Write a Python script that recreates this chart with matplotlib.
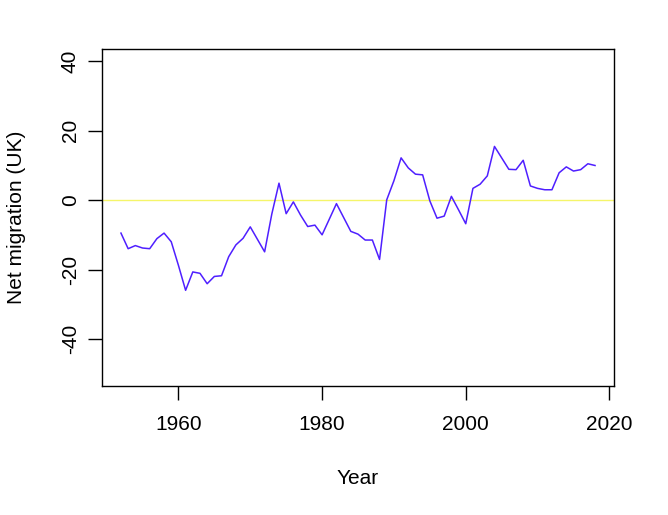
import matplotlib
matplotlib.use("Agg")
import matplotlib.pyplot as plt

years = list(range(1952, 2019))
net_migration = [
    -9.5, -14.0, -13.1, -13.8, -14.0, -11.1, -9.5, -12.0, -18.8, -26.0,
    -20.7, -21.1, -24.1, -22.0, -21.8, -16.3, -12.9, -11.0, -7.7, -11.3,
    -14.9, -4.0, 4.9, -3.9, -0.5, -4.3, -7.6, -7.2, -10.0, -5.5,
    -1.0, -5.0, -9.0, -9.8, -11.5, -11.5, -17.1, 0.1, 5.6, 12.2,
    9.3, 7.5, 7.3, -0.2, -5.2, -4.6, 1.1, -2.8, -6.8, 3.4,
    4.6, 7.0, 15.5, 12.2, 8.9, 8.8, 11.5, 4.1, 3.4, 3.0,
    3.0, 7.9, 9.6, 8.4, 8.8, 10.5, 10.0,
]
xticks = [1960, 1980, 2000, 2020]
yticks = [-40, -20, 0, 20, 40]

plt.rcParams['font.family'] = ['Liberation Sans', 'DejaVu Sans']

W, H = 668, 515
fig = plt.figure(figsize=(W / 100, H / 100), dpi=100)
ax = fig.add_axes([102 / W, 1 - 386 / H, (614 - 102) / W, (386 - 49) / H])

ax.axhline(0, color='#F5F56A', lw=1.0, zorder=1)
ax.plot(years, net_migration, color='#4F1FFF', lw=1.1, zorder=2)

x0, x1 = min(years), max(years)
dx = (x1 - x0) * 0.04
ax.set_xlim(x0 - dx, x1 + dx)
ylo, yhi = -50, 40
dy = (yhi - ylo) * 0.04
ax.set_ylim(ylo - dy, yhi + dy)

fs = 15
ax.set_xticks(xticks)
ax.set_yticks(yticks)
ax.set_yticklabels([str(v) for v in yticks], rotation=90, va='center')
ax.tick_params(direction='out', length=10, width=1, labelsize=fs)
ax.tick_params(axis='x', pad=11)
ax.tick_params(axis='y', pad=6)
for s in ax.spines.values():
    s.set_linewidth(1)

ax.set_xlabel('Year', fontsize=fs, labelpad=25)
ax.set_ylabel('Net migration (UK)', fontsize=fs, labelpad=25)

fig.savefig('out.png', dpi=100)
